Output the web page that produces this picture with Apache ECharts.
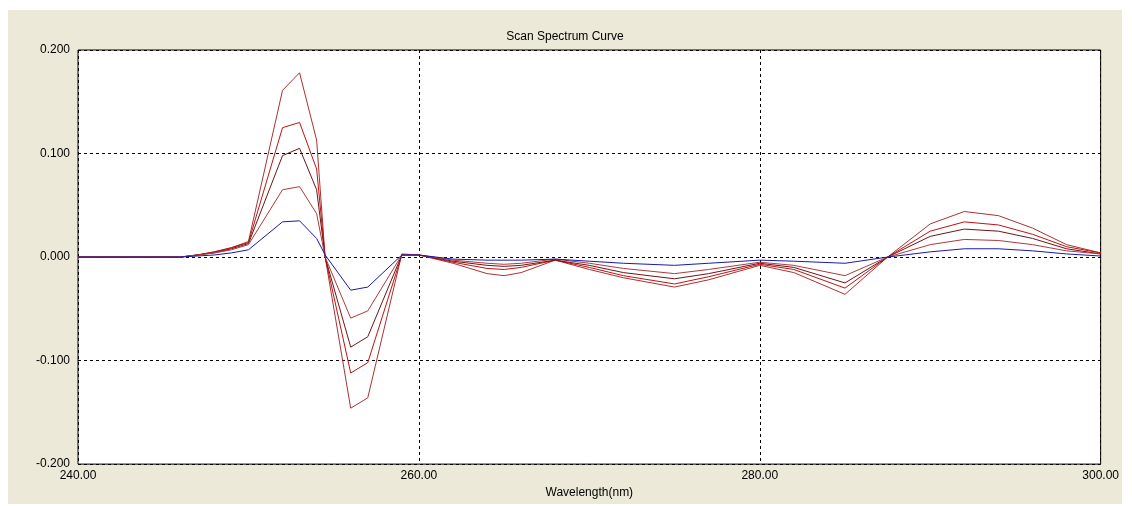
<!DOCTYPE html>
<html><head><meta charset="utf-8">
<script src="https://cdn.jsdelivr.net/npm/echarts@6/dist/echarts.min.js"></script>
<style>
body{margin:0;background:#fff;}
#chart{position:absolute;left:8px;top:10px;width:1114px;height:494px;background:#ECE9D8;}
</style></head>
<body><div id="chart"></div>
<script>
const wavelengths = [240,246,247,248,249,250,252,253,254,254.5,256,257,259,260,262,264,265,266,268,270,272,275,277,280,282,285,287.5,290,292,294,296,298,300];
const curve1 = [0,0,0.002,0.005,0.009,0.015,0.161,0.178,0.113,0,-0.146,-0.136,0.003,0.002,-0.006,-0.016,-0.018,-0.015,-0.003,-0.012,-0.020,-0.029,-0.022,-0.008,-0.015,-0.036,0,0.032,0.044,0.040,0.028,0.012,0.004];
const curve2 = [0,0,0.002,0.005,0.009,0.014,0.125,0.130,0.085,0,-0.112,-0.102,0.002,0.002,-0.005,-0.011,-0.012,-0.010,-0.003,-0.010,-0.018,-0.026,-0.019,-0.007,-0.012,-0.030,0,0.025,0.034,0.031,0.022,0.010,0.004];
const curve3 = [0,0,0.002,0.004,0.008,0.013,0.098,0.105,0.065,0,-0.087,-0.077,0.002,0.002,-0.004,-0.008,-0.009,-0.008,-0.003,-0.008,-0.015,-0.021,-0.016,-0.006,-0.010,-0.025,0,0.020,0.027,0.025,0.018,0.008,0.003];
const curve4 = [0,0,0.002,0.004,0.007,0.012,0.065,0.068,0.042,0,-0.059,-0.052,0.002,0.002,-0.003,-0.006,-0.007,-0.006,-0.002,-0.006,-0.011,-0.016,-0.012,-0.005,-0.008,-0.018,0,0.012,0.017,0.016,0.012,0.006,0.003];
const curveBlue = [0,0,0.001,0.002,0.004,0.007,0.034,0.035,0.018,0.002,-0.032,-0.029,0.002,0.002,-0.002,-0.003,-0.003,-0.003,-0.002,-0.004,-0.006,-0.008,-0.006,-0.003,-0.004,-0.006,0,0.005,0.008,0.008,0.006,0.003,0.001];
const curves = [
  {d: curve1, c: '#a83232'},
  {d: curve2, c: '#c41010'},
  {d: curve3, c: '#6e1414'},
  {d: curve4, c: '#b03a3a'},
  {d: curveBlue, c: '#1a1aa8'}
];

const chart = echarts.init(document.getElementById('chart'));
const font = 'Liberation Sans, Arial, sans-serif';
chart.setOption({
  animation: false,
  title: { text: 'Scan Spectrum Curve', left: 'center', top: 16,
    textStyle: { fontSize: 12, fontWeight: 'normal', color: '#000', fontFamily: font } },
  grid: { left: 70, top: 40, right: 17, bottom: 39, show: true, backgroundColor: '#fff', borderColor: '#000', borderWidth: 1 },
  xAxis: {
    type: 'value', min: 240, max: 300, interval: 20,
    name: 'Wavelength(nm)', nameLocation: 'middle', nameGap: 18,
    nameTextStyle: { fontSize: 12, color: '#000', fontFamily: font },
    axisLine: { show: false }, axisTick: { show: false },
    axisLabel: { formatter: v => v.toFixed(2), fontSize: 12, color: '#000', fontFamily: font, margin: 6 },
    splitLine: { lineStyle: { type: [3, 3], color: '#000' } }
  },
  yAxis: {
    type: 'value', min: -0.2, max: 0.2, interval: 0.1,
    axisLine: { show: false }, axisTick: { show: false },
    axisLabel: { formatter: v => v.toFixed(3), fontSize: 12, color: '#000', fontFamily: font, margin: 8 },
    splitLine: { lineStyle: { type: [3, 3], color: '#000' } }
  },
  series: curves.map(s => ({
    type: 'line', showSymbol: false, smooth: false,
    lineStyle: { width: 1, color: s.c },
    data: wavelengths.map((w, i) => [w, s.d[i]])
  }))
});
</script></body></html>
